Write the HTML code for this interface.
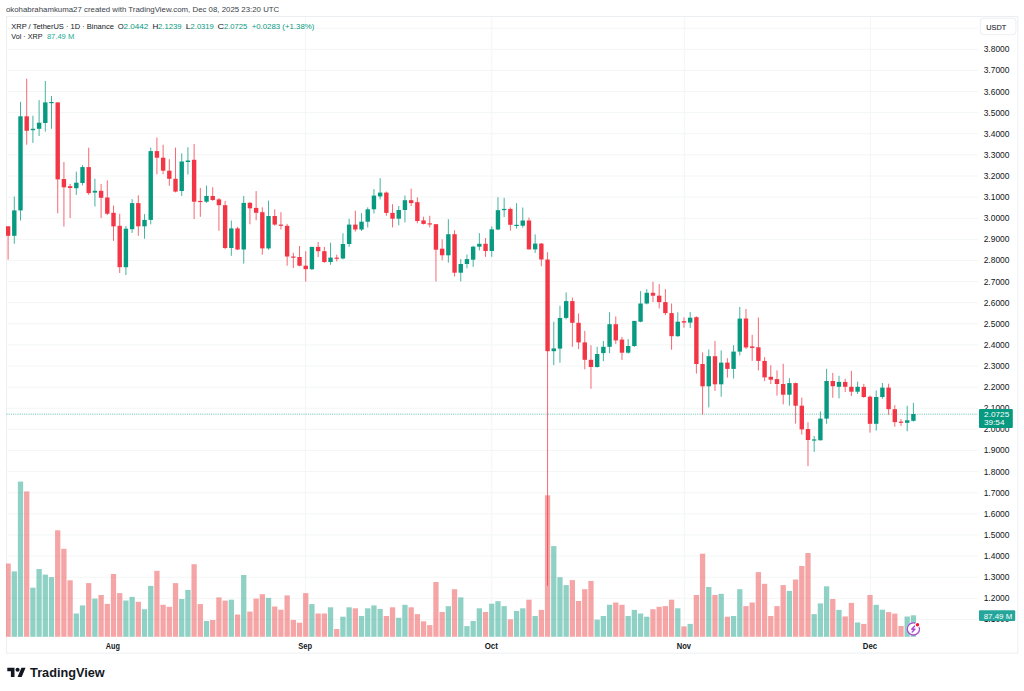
<!DOCTYPE html>
<html><head><meta charset="utf-8">
<style>
html,body{margin:0;padding:0;background:#fff;}
body{width:1024px;height:691px;position:relative;overflow:hidden;font-family:"Liberation Sans",sans-serif;color:#131722;}
svg{position:absolute;left:0;top:0;font-family:"Liberation Sans",sans-serif;}
</style></head><body>
<svg width="1024" height="691" viewBox="0 0 1024 691">
<rect x="6.5" y="16.5" width="1011.3" height="636.6" fill="#fff" stroke="#eceff2" stroke-width="1"/>
<clipPath id="cp"><rect x="6" y="17" width="972" height="620"/></clipPath>
<g clip-path="url(#cp)">
<line x1="6.5" y1="619.40" x2="978" y2="619.40" stroke="#f3f6f5" stroke-width="1"/>
<line x1="6.5" y1="598.29" x2="978" y2="598.29" stroke="#f3f6f5" stroke-width="1"/>
<line x1="6.5" y1="577.17" x2="978" y2="577.17" stroke="#f3f6f5" stroke-width="1"/>
<line x1="6.5" y1="556.06" x2="978" y2="556.06" stroke="#f3f6f5" stroke-width="1"/>
<line x1="6.5" y1="534.94" x2="978" y2="534.94" stroke="#f3f6f5" stroke-width="1"/>
<line x1="6.5" y1="513.83" x2="978" y2="513.83" stroke="#f3f6f5" stroke-width="1"/>
<line x1="6.5" y1="492.72" x2="978" y2="492.72" stroke="#f3f6f5" stroke-width="1"/>
<line x1="6.5" y1="471.60" x2="978" y2="471.60" stroke="#f3f6f5" stroke-width="1"/>
<line x1="6.5" y1="450.49" x2="978" y2="450.49" stroke="#f3f6f5" stroke-width="1"/>
<line x1="6.5" y1="429.37" x2="978" y2="429.37" stroke="#f3f6f5" stroke-width="1"/>
<line x1="6.5" y1="408.26" x2="978" y2="408.26" stroke="#f3f6f5" stroke-width="1"/>
<line x1="6.5" y1="387.15" x2="978" y2="387.15" stroke="#f3f6f5" stroke-width="1"/>
<line x1="6.5" y1="366.03" x2="978" y2="366.03" stroke="#f3f6f5" stroke-width="1"/>
<line x1="6.5" y1="344.92" x2="978" y2="344.92" stroke="#f3f6f5" stroke-width="1"/>
<line x1="6.5" y1="323.80" x2="978" y2="323.80" stroke="#f3f6f5" stroke-width="1"/>
<line x1="6.5" y1="302.69" x2="978" y2="302.69" stroke="#f3f6f5" stroke-width="1"/>
<line x1="6.5" y1="281.58" x2="978" y2="281.58" stroke="#f3f6f5" stroke-width="1"/>
<line x1="6.5" y1="260.46" x2="978" y2="260.46" stroke="#f3f6f5" stroke-width="1"/>
<line x1="6.5" y1="239.35" x2="978" y2="239.35" stroke="#f3f6f5" stroke-width="1"/>
<line x1="6.5" y1="218.23" x2="978" y2="218.23" stroke="#f3f6f5" stroke-width="1"/>
<line x1="6.5" y1="197.12" x2="978" y2="197.12" stroke="#f3f6f5" stroke-width="1"/>
<line x1="6.5" y1="176.01" x2="978" y2="176.01" stroke="#f3f6f5" stroke-width="1"/>
<line x1="6.5" y1="154.89" x2="978" y2="154.89" stroke="#f3f6f5" stroke-width="1"/>
<line x1="6.5" y1="133.78" x2="978" y2="133.78" stroke="#f3f6f5" stroke-width="1"/>
<line x1="6.5" y1="112.66" x2="978" y2="112.66" stroke="#f3f6f5" stroke-width="1"/>
<line x1="6.5" y1="91.55" x2="978" y2="91.55" stroke="#f3f6f5" stroke-width="1"/>
<line x1="6.5" y1="70.44" x2="978" y2="70.44" stroke="#f3f6f5" stroke-width="1"/>
<line x1="6.5" y1="49.32" x2="978" y2="49.32" stroke="#f3f6f5" stroke-width="1"/>
<line x1="6.5" y1="28.21" x2="978" y2="28.21" stroke="#f3f6f5" stroke-width="1"/>
<line x1="305.6" y1="16.5" x2="305.6" y2="637" stroke="#f3f6f5" stroke-width="1"/>
<line x1="491.8" y1="16.5" x2="491.8" y2="637" stroke="#f3f6f5" stroke-width="1"/>
<line x1="684.3" y1="16.5" x2="684.3" y2="637" stroke="#f3f6f5" stroke-width="1"/>
<line x1="870.4" y1="16.5" x2="870.4" y2="637" stroke="#f3f6f5" stroke-width="1"/>
<rect x="5.45" y="563.50" width="5.3" height="73.30" fill="rgba(235,55,57,0.45)"/>
<rect x="11.65" y="571.40" width="5.3" height="65.40" fill="rgba(8,153,129,0.45)"/>
<rect x="17.85" y="481.60" width="5.3" height="155.20" fill="rgba(8,153,129,0.45)"/>
<rect x="24.05" y="491.40" width="5.3" height="145.40" fill="rgba(235,55,57,0.45)"/>
<rect x="30.25" y="587.70" width="5.3" height="49.10" fill="rgba(8,153,129,0.45)"/>
<rect x="36.45" y="569.00" width="5.3" height="67.80" fill="rgba(8,153,129,0.45)"/>
<rect x="42.65" y="574.60" width="5.3" height="62.20" fill="rgba(8,153,129,0.45)"/>
<rect x="48.85" y="577.10" width="5.3" height="59.70" fill="rgba(8,153,129,0.45)"/>
<rect x="55.06" y="530.30" width="5.3" height="106.50" fill="rgba(235,55,57,0.45)"/>
<rect x="61.26" y="548.80" width="5.3" height="88.00" fill="rgba(235,55,57,0.45)"/>
<rect x="67.46" y="580.30" width="5.3" height="56.50" fill="rgba(235,55,57,0.45)"/>
<rect x="73.66" y="613.50" width="5.3" height="23.30" fill="rgba(8,153,129,0.45)"/>
<rect x="79.86" y="605.40" width="5.3" height="31.40" fill="rgba(8,153,129,0.45)"/>
<rect x="86.06" y="583.10" width="5.3" height="53.70" fill="rgba(235,55,57,0.45)"/>
<rect x="92.26" y="598.60" width="5.3" height="38.20" fill="rgba(8,153,129,0.45)"/>
<rect x="98.46" y="595.00" width="5.3" height="41.80" fill="rgba(235,55,57,0.45)"/>
<rect x="104.66" y="603.90" width="5.3" height="32.90" fill="rgba(235,55,57,0.45)"/>
<rect x="110.86" y="574.00" width="5.3" height="62.80" fill="rgba(235,55,57,0.45)"/>
<rect x="117.06" y="593.10" width="5.3" height="43.70" fill="rgba(235,55,57,0.45)"/>
<rect x="123.26" y="600.50" width="5.3" height="36.30" fill="rgba(8,153,129,0.45)"/>
<rect x="129.46" y="596.90" width="5.3" height="39.90" fill="rgba(8,153,129,0.45)"/>
<rect x="135.66" y="601.80" width="5.3" height="35.00" fill="rgba(235,55,57,0.45)"/>
<rect x="141.87" y="609.20" width="5.3" height="27.60" fill="rgba(8,153,129,0.45)"/>
<rect x="148.07" y="585.90" width="5.3" height="50.90" fill="rgba(8,153,129,0.45)"/>
<rect x="154.27" y="570.80" width="5.3" height="66.00" fill="rgba(235,55,57,0.45)"/>
<rect x="160.47" y="604.80" width="5.3" height="32.00" fill="rgba(235,55,57,0.45)"/>
<rect x="166.67" y="606.80" width="5.3" height="30.00" fill="rgba(235,55,57,0.45)"/>
<rect x="172.87" y="583.10" width="5.3" height="53.70" fill="rgba(235,55,57,0.45)"/>
<rect x="179.07" y="599.00" width="5.3" height="37.80" fill="rgba(8,153,129,0.45)"/>
<rect x="185.27" y="589.90" width="5.3" height="46.90" fill="rgba(8,153,129,0.45)"/>
<rect x="191.47" y="564.20" width="5.3" height="72.60" fill="rgba(235,55,57,0.45)"/>
<rect x="197.67" y="604.10" width="5.3" height="32.70" fill="rgba(235,55,57,0.45)"/>
<rect x="203.87" y="621.00" width="5.3" height="15.80" fill="rgba(8,153,129,0.45)"/>
<rect x="210.07" y="620.00" width="5.3" height="16.80" fill="rgba(235,55,57,0.45)"/>
<rect x="216.27" y="597.40" width="5.3" height="39.40" fill="rgba(235,55,57,0.45)"/>
<rect x="222.47" y="600.60" width="5.3" height="36.20" fill="rgba(235,55,57,0.45)"/>
<rect x="228.68" y="599.70" width="5.3" height="37.10" fill="rgba(8,153,129,0.45)"/>
<rect x="234.88" y="614.50" width="5.3" height="22.30" fill="rgba(235,55,57,0.45)"/>
<rect x="241.08" y="575.00" width="5.3" height="61.80" fill="rgba(8,153,129,0.45)"/>
<rect x="247.28" y="611.60" width="5.3" height="25.20" fill="rgba(235,55,57,0.45)"/>
<rect x="253.48" y="598.60" width="5.3" height="38.20" fill="rgba(235,55,57,0.45)"/>
<rect x="259.68" y="594.20" width="5.3" height="42.60" fill="rgba(235,55,57,0.45)"/>
<rect x="265.88" y="597.90" width="5.3" height="38.90" fill="rgba(8,153,129,0.45)"/>
<rect x="272.08" y="606.50" width="5.3" height="30.30" fill="rgba(235,55,57,0.45)"/>
<rect x="278.28" y="609.70" width="5.3" height="27.10" fill="rgba(235,55,57,0.45)"/>
<rect x="284.48" y="595.40" width="5.3" height="41.40" fill="rgba(235,55,57,0.45)"/>
<rect x="290.68" y="619.90" width="5.3" height="16.90" fill="rgba(235,55,57,0.45)"/>
<rect x="296.88" y="622.70" width="5.3" height="14.10" fill="rgba(235,55,57,0.45)"/>
<rect x="303.08" y="593.10" width="5.3" height="43.70" fill="rgba(235,55,57,0.45)"/>
<rect x="309.28" y="604.10" width="5.3" height="32.70" fill="rgba(8,153,129,0.45)"/>
<rect x="315.49" y="613.50" width="5.3" height="23.30" fill="rgba(235,55,57,0.45)"/>
<rect x="321.69" y="613.50" width="5.3" height="23.30" fill="rgba(235,55,57,0.45)"/>
<rect x="327.89" y="607.30" width="5.3" height="29.50" fill="rgba(8,153,129,0.45)"/>
<rect x="334.09" y="629.00" width="5.3" height="7.80" fill="rgba(235,55,57,0.45)"/>
<rect x="340.29" y="616.70" width="5.3" height="20.10" fill="rgba(8,153,129,0.45)"/>
<rect x="346.49" y="607.30" width="5.3" height="29.50" fill="rgba(8,153,129,0.45)"/>
<rect x="352.69" y="608.30" width="5.3" height="28.50" fill="rgba(235,55,57,0.45)"/>
<rect x="358.89" y="616.00" width="5.3" height="20.80" fill="rgba(8,153,129,0.45)"/>
<rect x="365.09" y="608.30" width="5.3" height="28.50" fill="rgba(8,153,129,0.45)"/>
<rect x="371.29" y="605.40" width="5.3" height="31.40" fill="rgba(8,153,129,0.45)"/>
<rect x="377.49" y="609.00" width="5.3" height="27.80" fill="rgba(8,153,129,0.45)"/>
<rect x="383.69" y="616.00" width="5.3" height="20.80" fill="rgba(235,55,57,0.45)"/>
<rect x="389.89" y="607.30" width="5.3" height="29.50" fill="rgba(235,55,57,0.45)"/>
<rect x="396.09" y="617.80" width="5.3" height="19.00" fill="rgba(8,153,129,0.45)"/>
<rect x="402.29" y="604.80" width="5.3" height="32.00" fill="rgba(8,153,129,0.45)"/>
<rect x="408.50" y="607.30" width="5.3" height="29.50" fill="rgba(235,55,57,0.45)"/>
<rect x="414.70" y="614.10" width="5.3" height="22.70" fill="rgba(235,55,57,0.45)"/>
<rect x="420.90" y="621.30" width="5.3" height="15.50" fill="rgba(235,55,57,0.45)"/>
<rect x="427.10" y="625.10" width="5.3" height="11.70" fill="rgba(235,55,57,0.45)"/>
<rect x="433.30" y="582.00" width="5.3" height="54.80" fill="rgba(235,55,57,0.45)"/>
<rect x="439.50" y="612.00" width="5.3" height="24.80" fill="rgba(235,55,57,0.45)"/>
<rect x="445.70" y="606.20" width="5.3" height="30.60" fill="rgba(8,153,129,0.45)"/>
<rect x="451.90" y="589.20" width="5.3" height="47.60" fill="rgba(235,55,57,0.45)"/>
<rect x="458.10" y="597.40" width="5.3" height="39.40" fill="rgba(8,153,129,0.45)"/>
<rect x="464.30" y="626.10" width="5.3" height="10.70" fill="rgba(8,153,129,0.45)"/>
<rect x="470.50" y="621.00" width="5.3" height="15.80" fill="rgba(8,153,129,0.45)"/>
<rect x="476.70" y="608.30" width="5.3" height="28.50" fill="rgba(8,153,129,0.45)"/>
<rect x="482.90" y="612.00" width="5.3" height="24.80" fill="rgba(235,55,57,0.45)"/>
<rect x="489.10" y="603.70" width="5.3" height="33.10" fill="rgba(8,153,129,0.45)"/>
<rect x="495.31" y="601.20" width="5.3" height="35.60" fill="rgba(8,153,129,0.45)"/>
<rect x="501.51" y="606.10" width="5.3" height="30.70" fill="rgba(8,153,129,0.45)"/>
<rect x="507.71" y="619.30" width="5.3" height="17.50" fill="rgba(235,55,57,0.45)"/>
<rect x="513.91" y="611.00" width="5.3" height="25.80" fill="rgba(8,153,129,0.45)"/>
<rect x="520.11" y="608.30" width="5.3" height="28.50" fill="rgba(8,153,129,0.45)"/>
<rect x="526.31" y="599.70" width="5.3" height="37.10" fill="rgba(235,55,57,0.45)"/>
<rect x="532.51" y="616.00" width="5.3" height="20.80" fill="rgba(8,153,129,0.45)"/>
<rect x="538.71" y="609.90" width="5.3" height="26.90" fill="rgba(235,55,57,0.45)"/>
<rect x="544.91" y="495.30" width="5.3" height="141.50" fill="rgba(235,55,57,0.45)"/>
<rect x="551.11" y="546.10" width="5.3" height="90.70" fill="rgba(8,153,129,0.45)"/>
<rect x="557.31" y="577.20" width="5.3" height="59.60" fill="rgba(8,153,129,0.45)"/>
<rect x="563.51" y="585.10" width="5.3" height="51.70" fill="rgba(8,153,129,0.45)"/>
<rect x="569.71" y="580.10" width="5.3" height="56.70" fill="rgba(235,55,57,0.45)"/>
<rect x="575.91" y="601.00" width="5.3" height="35.80" fill="rgba(235,55,57,0.45)"/>
<rect x="582.12" y="589.20" width="5.3" height="47.60" fill="rgba(235,55,57,0.45)"/>
<rect x="588.32" y="580.90" width="5.3" height="55.90" fill="rgba(235,55,57,0.45)"/>
<rect x="594.52" y="619.60" width="5.3" height="17.20" fill="rgba(8,153,129,0.45)"/>
<rect x="600.72" y="616.00" width="5.3" height="20.80" fill="rgba(8,153,129,0.45)"/>
<rect x="606.92" y="604.80" width="5.3" height="32.00" fill="rgba(8,153,129,0.45)"/>
<rect x="613.12" y="602.50" width="5.3" height="34.30" fill="rgba(235,55,57,0.45)"/>
<rect x="619.32" y="604.80" width="5.3" height="32.00" fill="rgba(235,55,57,0.45)"/>
<rect x="625.52" y="616.00" width="5.3" height="20.80" fill="rgba(8,153,129,0.45)"/>
<rect x="631.72" y="609.90" width="5.3" height="26.90" fill="rgba(8,153,129,0.45)"/>
<rect x="637.92" y="613.50" width="5.3" height="23.30" fill="rgba(8,153,129,0.45)"/>
<rect x="644.12" y="616.70" width="5.3" height="20.10" fill="rgba(8,153,129,0.45)"/>
<rect x="650.32" y="609.20" width="5.3" height="27.60" fill="rgba(235,55,57,0.45)"/>
<rect x="656.52" y="606.80" width="5.3" height="30.00" fill="rgba(235,55,57,0.45)"/>
<rect x="662.72" y="606.10" width="5.3" height="30.70" fill="rgba(235,55,57,0.45)"/>
<rect x="668.92" y="599.70" width="5.3" height="37.10" fill="rgba(235,55,57,0.45)"/>
<rect x="675.13" y="608.30" width="5.3" height="28.50" fill="rgba(8,153,129,0.45)"/>
<rect x="681.33" y="626.40" width="5.3" height="10.40" fill="rgba(235,55,57,0.45)"/>
<rect x="687.53" y="623.90" width="5.3" height="12.90" fill="rgba(8,153,129,0.45)"/>
<rect x="693.73" y="595.00" width="5.3" height="41.80" fill="rgba(235,55,57,0.45)"/>
<rect x="699.93" y="553.70" width="5.3" height="83.10" fill="rgba(235,55,57,0.45)"/>
<rect x="706.13" y="587.00" width="5.3" height="49.80" fill="rgba(8,153,129,0.45)"/>
<rect x="712.33" y="595.00" width="5.3" height="41.80" fill="rgba(235,55,57,0.45)"/>
<rect x="718.53" y="593.80" width="5.3" height="43.00" fill="rgba(8,153,129,0.45)"/>
<rect x="724.73" y="616.70" width="5.3" height="20.10" fill="rgba(235,55,57,0.45)"/>
<rect x="730.93" y="616.00" width="5.3" height="20.80" fill="rgba(8,153,129,0.45)"/>
<rect x="737.13" y="589.20" width="5.3" height="47.60" fill="rgba(8,153,129,0.45)"/>
<rect x="743.33" y="606.10" width="5.3" height="30.70" fill="rgba(235,55,57,0.45)"/>
<rect x="749.53" y="602.50" width="5.3" height="34.30" fill="rgba(235,55,57,0.45)"/>
<rect x="755.73" y="572.10" width="5.3" height="64.70" fill="rgba(235,55,57,0.45)"/>
<rect x="761.94" y="583.80" width="5.3" height="53.00" fill="rgba(235,55,57,0.45)"/>
<rect x="768.14" y="616.00" width="5.3" height="20.80" fill="rgba(235,55,57,0.45)"/>
<rect x="774.34" y="606.10" width="5.3" height="30.70" fill="rgba(235,55,57,0.45)"/>
<rect x="780.54" y="585.10" width="5.3" height="51.70" fill="rgba(235,55,57,0.45)"/>
<rect x="786.74" y="590.90" width="5.3" height="45.90" fill="rgba(8,153,129,0.45)"/>
<rect x="792.94" y="579.50" width="5.3" height="57.30" fill="rgba(235,55,57,0.45)"/>
<rect x="799.14" y="566.00" width="5.3" height="70.80" fill="rgba(235,55,57,0.45)"/>
<rect x="805.34" y="553.00" width="5.3" height="83.80" fill="rgba(235,55,57,0.45)"/>
<rect x="811.54" y="614.10" width="5.3" height="22.70" fill="rgba(8,153,129,0.45)"/>
<rect x="817.74" y="603.40" width="5.3" height="33.40" fill="rgba(8,153,129,0.45)"/>
<rect x="823.94" y="586.30" width="5.3" height="50.50" fill="rgba(8,153,129,0.45)"/>
<rect x="830.14" y="599.00" width="5.3" height="37.80" fill="rgba(235,55,57,0.45)"/>
<rect x="836.34" y="609.90" width="5.3" height="26.90" fill="rgba(8,153,129,0.45)"/>
<rect x="842.54" y="616.40" width="5.3" height="20.40" fill="rgba(235,55,57,0.45)"/>
<rect x="848.75" y="602.90" width="5.3" height="33.90" fill="rgba(235,55,57,0.45)"/>
<rect x="854.95" y="622.50" width="5.3" height="14.30" fill="rgba(8,153,129,0.45)"/>
<rect x="861.15" y="623.90" width="5.3" height="12.90" fill="rgba(235,55,57,0.45)"/>
<rect x="867.35" y="595.00" width="5.3" height="41.80" fill="rgba(235,55,57,0.45)"/>
<rect x="873.55" y="604.80" width="5.3" height="32.00" fill="rgba(8,153,129,0.45)"/>
<rect x="879.75" y="609.70" width="5.3" height="27.10" fill="rgba(8,153,129,0.45)"/>
<rect x="885.95" y="612.10" width="5.3" height="24.70" fill="rgba(235,55,57,0.45)"/>
<rect x="892.15" y="613.60" width="5.3" height="23.20" fill="rgba(235,55,57,0.45)"/>
<rect x="898.35" y="626.00" width="5.3" height="10.80" fill="rgba(235,55,57,0.45)"/>
<rect x="904.55" y="616.50" width="5.3" height="20.30" fill="rgba(8,153,129,0.45)"/>
<rect x="910.75" y="615.30" width="5.3" height="21.50" fill="rgba(8,153,129,0.45)"/>
<line x1="6.5" y1="414.2" x2="977.5" y2="414.2" stroke="#089981" stroke-width="1" stroke-dasharray="1 1.2" opacity="0.6"/>
<rect x="7.60" y="226.30" width="1.0" height="33.30" fill="#f23645" opacity="0.75"/>
<rect x="5.90" y="226.30" width="4.4" height="9.50" fill="#f23645"/>
<rect x="13.80" y="196.50" width="1.0" height="47.20" fill="#089981" opacity="0.75"/>
<rect x="12.10" y="210.40" width="4.4" height="25.40" fill="#089981"/>
<rect x="20.00" y="101.80" width="1.0" height="118.70" fill="#089981" opacity="0.75"/>
<rect x="18.30" y="116.30" width="4.4" height="94.10" fill="#089981"/>
<rect x="26.20" y="78.70" width="1.0" height="66.00" fill="#f23645" opacity="0.75"/>
<rect x="24.50" y="116.30" width="4.4" height="14.50" fill="#f23645"/>
<rect x="32.40" y="115.70" width="1.0" height="27.20" fill="#089981" opacity="0.75"/>
<rect x="30.70" y="128.80" width="4.4" height="1.40" fill="#089981"/>
<rect x="38.60" y="100.10" width="1.0" height="35.90" fill="#089981" opacity="0.75"/>
<rect x="36.90" y="122.70" width="4.4" height="6.10" fill="#089981"/>
<rect x="44.80" y="81.00" width="1.0" height="50.60" fill="#089981" opacity="0.75"/>
<rect x="43.10" y="102.40" width="4.4" height="20.60" fill="#089981"/>
<rect x="51.00" y="96.00" width="1.0" height="32.80" fill="#089981" opacity="0.75"/>
<rect x="49.30" y="102.00" width="4.4" height="1.20" fill="#089981"/>
<rect x="57.21" y="102.40" width="1.0" height="110.90" fill="#f23645" opacity="0.75"/>
<rect x="55.51" y="102.40" width="4.4" height="77.00" fill="#f23645"/>
<rect x="63.41" y="162.00" width="1.0" height="64.50" fill="#f23645" opacity="0.75"/>
<rect x="61.71" y="179.00" width="4.4" height="8.30" fill="#f23645"/>
<rect x="69.61" y="183.90" width="1.0" height="34.10" fill="#f23645" opacity="0.75"/>
<rect x="67.91" y="186.20" width="4.4" height="1.80" fill="#f23645"/>
<rect x="75.81" y="171.70" width="1.0" height="23.20" fill="#089981" opacity="0.75"/>
<rect x="74.11" y="182.70" width="4.4" height="5.50" fill="#089981"/>
<rect x="82.01" y="165.10" width="1.0" height="20.20" fill="#089981" opacity="0.75"/>
<rect x="80.31" y="167.10" width="4.4" height="15.90" fill="#089981"/>
<rect x="88.21" y="147.70" width="1.0" height="47.20" fill="#f23645" opacity="0.75"/>
<rect x="86.51" y="167.10" width="4.4" height="26.00" fill="#f23645"/>
<rect x="94.41" y="178.70" width="1.0" height="27.80" fill="#089981" opacity="0.75"/>
<rect x="92.71" y="190.80" width="4.4" height="1.80" fill="#089981"/>
<rect x="100.61" y="183.90" width="1.0" height="34.10" fill="#f23645" opacity="0.75"/>
<rect x="98.91" y="190.80" width="4.4" height="7.00" fill="#f23645"/>
<rect x="106.81" y="180.40" width="1.0" height="34.70" fill="#f23645" opacity="0.75"/>
<rect x="105.11" y="197.50" width="4.4" height="16.20" fill="#f23645"/>
<rect x="113.01" y="205.60" width="1.0" height="35.30" fill="#f23645" opacity="0.75"/>
<rect x="111.31" y="212.80" width="4.4" height="13.60" fill="#f23645"/>
<rect x="119.21" y="213.70" width="1.0" height="59.30" fill="#f23645" opacity="0.75"/>
<rect x="117.51" y="225.80" width="4.4" height="41.40" fill="#f23645"/>
<rect x="125.41" y="226.00" width="1.0" height="49.00" fill="#089981" opacity="0.75"/>
<rect x="123.71" y="228.70" width="4.4" height="38.50" fill="#089981"/>
<rect x="131.61" y="199.10" width="1.0" height="33.80" fill="#089981" opacity="0.75"/>
<rect x="129.91" y="203.10" width="4.4" height="26.10" fill="#089981"/>
<rect x="137.81" y="195.30" width="1.0" height="40.50" fill="#f23645" opacity="0.75"/>
<rect x="136.11" y="203.10" width="4.4" height="23.20" fill="#f23645"/>
<rect x="144.02" y="214.10" width="1.0" height="24.60" fill="#089981" opacity="0.75"/>
<rect x="142.32" y="219.90" width="4.4" height="6.40" fill="#089981"/>
<rect x="150.22" y="147.60" width="1.0" height="76.70" fill="#089981" opacity="0.75"/>
<rect x="148.52" y="151.10" width="4.4" height="68.80" fill="#089981"/>
<rect x="156.42" y="137.50" width="1.0" height="36.70" fill="#f23645" opacity="0.75"/>
<rect x="154.72" y="151.10" width="4.4" height="6.60" fill="#f23645"/>
<rect x="162.62" y="144.70" width="1.0" height="29.50" fill="#f23645" opacity="0.75"/>
<rect x="160.92" y="157.70" width="4.4" height="13.00" fill="#f23645"/>
<rect x="168.82" y="159.20" width="1.0" height="26.60" fill="#f23645" opacity="0.75"/>
<rect x="167.12" y="170.70" width="4.4" height="8.10" fill="#f23645"/>
<rect x="175.02" y="147.60" width="1.0" height="44.80" fill="#f23645" opacity="0.75"/>
<rect x="173.32" y="178.80" width="4.4" height="12.80" fill="#f23645"/>
<rect x="181.22" y="153.40" width="1.0" height="42.50" fill="#089981" opacity="0.75"/>
<rect x="179.52" y="161.50" width="4.4" height="29.50" fill="#089981"/>
<rect x="187.42" y="147.20" width="1.0" height="27.30" fill="#089981" opacity="0.75"/>
<rect x="185.72" y="160.50" width="4.4" height="1.50" fill="#089981"/>
<rect x="193.62" y="143.90" width="1.0" height="75.20" fill="#f23645" opacity="0.75"/>
<rect x="191.92" y="159.80" width="4.4" height="41.90" fill="#f23645"/>
<rect x="199.82" y="187.90" width="1.0" height="28.90" fill="#f23645" opacity="0.75"/>
<rect x="198.12" y="200.90" width="4.4" height="1.20" fill="#f23645"/>
<rect x="206.02" y="185.50" width="1.0" height="17.40" fill="#089981" opacity="0.75"/>
<rect x="204.32" y="196.00" width="4.4" height="5.70" fill="#089981"/>
<rect x="212.22" y="187.30" width="1.0" height="13.60" fill="#f23645" opacity="0.75"/>
<rect x="210.52" y="196.00" width="4.4" height="4.00" fill="#f23645"/>
<rect x="218.42" y="198.00" width="1.0" height="32.70" fill="#f23645" opacity="0.75"/>
<rect x="216.72" y="199.40" width="4.4" height="5.80" fill="#f23645"/>
<rect x="224.62" y="200.90" width="1.0" height="48.30" fill="#f23645" opacity="0.75"/>
<rect x="222.92" y="205.20" width="4.4" height="42.80" fill="#f23645"/>
<rect x="230.83" y="220.50" width="1.0" height="35.30" fill="#089981" opacity="0.75"/>
<rect x="229.13" y="228.40" width="4.4" height="19.60" fill="#089981"/>
<rect x="237.03" y="226.90" width="1.0" height="23.10" fill="#f23645" opacity="0.75"/>
<rect x="235.33" y="228.40" width="4.4" height="21.10" fill="#f23645"/>
<rect x="243.23" y="196.00" width="1.0" height="67.60" fill="#089981" opacity="0.75"/>
<rect x="241.53" y="202.90" width="4.4" height="46.60" fill="#089981"/>
<rect x="249.43" y="202.20" width="1.0" height="22.10" fill="#f23645" opacity="0.75"/>
<rect x="247.73" y="202.80" width="4.4" height="5.50" fill="#f23645"/>
<rect x="255.63" y="191.10" width="1.0" height="29.20" fill="#f23645" opacity="0.75"/>
<rect x="253.93" y="207.90" width="4.4" height="4.90" fill="#f23645"/>
<rect x="261.83" y="207.30" width="1.0" height="47.40" fill="#f23645" opacity="0.75"/>
<rect x="260.13" y="212.20" width="4.4" height="36.20" fill="#f23645"/>
<rect x="268.03" y="200.60" width="1.0" height="49.20" fill="#089981" opacity="0.75"/>
<rect x="266.33" y="216.00" width="4.4" height="32.40" fill="#089981"/>
<rect x="274.23" y="209.30" width="1.0" height="16.50" fill="#f23645" opacity="0.75"/>
<rect x="272.53" y="216.00" width="4.4" height="8.60" fill="#f23645"/>
<rect x="280.43" y="212.20" width="1.0" height="17.30" fill="#f23645" opacity="0.75"/>
<rect x="278.73" y="224.60" width="4.4" height="1.20" fill="#f23645"/>
<rect x="286.63" y="223.80" width="1.0" height="41.90" fill="#f23645" opacity="0.75"/>
<rect x="284.93" y="225.80" width="4.4" height="30.70" fill="#f23645"/>
<rect x="292.83" y="252.70" width="1.0" height="15.30" fill="#f23645" opacity="0.75"/>
<rect x="291.13" y="256.50" width="4.4" height="1.20" fill="#f23645"/>
<rect x="299.03" y="246.00" width="1.0" height="20.30" fill="#f23645" opacity="0.75"/>
<rect x="297.33" y="257.00" width="4.4" height="8.70" fill="#f23645"/>
<rect x="305.23" y="251.20" width="1.0" height="30.40" fill="#f23645" opacity="0.75"/>
<rect x="303.53" y="265.70" width="4.4" height="3.50" fill="#f23645"/>
<rect x="311.43" y="246.90" width="1.0" height="23.10" fill="#089981" opacity="0.75"/>
<rect x="309.73" y="246.90" width="4.4" height="22.30" fill="#089981"/>
<rect x="317.64" y="242.00" width="1.0" height="15.00" fill="#f23645" opacity="0.75"/>
<rect x="315.94" y="246.90" width="4.4" height="4.30" fill="#f23645"/>
<rect x="323.84" y="246.90" width="1.0" height="15.90" fill="#f23645" opacity="0.75"/>
<rect x="322.14" y="251.20" width="4.4" height="10.80" fill="#f23645"/>
<rect x="330.04" y="242.60" width="1.0" height="22.20" fill="#089981" opacity="0.75"/>
<rect x="328.34" y="257.60" width="4.4" height="4.40" fill="#089981"/>
<rect x="336.24" y="254.70" width="1.0" height="6.70" fill="#f23645" opacity="0.75"/>
<rect x="334.54" y="257.60" width="4.4" height="1.20" fill="#f23645"/>
<rect x="342.44" y="233.30" width="1.0" height="26.00" fill="#089981" opacity="0.75"/>
<rect x="340.74" y="244.00" width="4.4" height="14.50" fill="#089981"/>
<rect x="348.64" y="218.80" width="1.0" height="28.10" fill="#089981" opacity="0.75"/>
<rect x="346.94" y="224.60" width="4.4" height="19.40" fill="#089981"/>
<rect x="354.84" y="210.70" width="1.0" height="20.90" fill="#f23645" opacity="0.75"/>
<rect x="353.14" y="224.60" width="4.4" height="4.90" fill="#f23645"/>
<rect x="361.04" y="213.10" width="1.0" height="17.90" fill="#089981" opacity="0.75"/>
<rect x="359.34" y="221.70" width="4.4" height="7.80" fill="#089981"/>
<rect x="367.24" y="207.30" width="1.0" height="20.20" fill="#089981" opacity="0.75"/>
<rect x="365.54" y="209.30" width="4.4" height="12.40" fill="#089981"/>
<rect x="373.44" y="189.10" width="1.0" height="24.40" fill="#089981" opacity="0.75"/>
<rect x="371.74" y="195.60" width="4.4" height="13.70" fill="#089981"/>
<rect x="379.64" y="178.20" width="1.0" height="21.10" fill="#089981" opacity="0.75"/>
<rect x="377.94" y="192.60" width="4.4" height="3.80" fill="#089981"/>
<rect x="385.84" y="191.50" width="1.0" height="24.30" fill="#f23645" opacity="0.75"/>
<rect x="384.14" y="192.60" width="4.4" height="20.30" fill="#f23645"/>
<rect x="392.04" y="204.20" width="1.0" height="23.20" fill="#f23645" opacity="0.75"/>
<rect x="390.34" y="212.90" width="4.4" height="5.80" fill="#f23645"/>
<rect x="398.24" y="206.00" width="1.0" height="19.30" fill="#089981" opacity="0.75"/>
<rect x="396.54" y="210.00" width="4.4" height="8.70" fill="#089981"/>
<rect x="404.44" y="195.50" width="1.0" height="26.90" fill="#089981" opacity="0.75"/>
<rect x="402.74" y="200.20" width="4.4" height="9.80" fill="#089981"/>
<rect x="410.65" y="188.60" width="1.0" height="17.40" fill="#f23645" opacity="0.75"/>
<rect x="408.95" y="200.20" width="4.4" height="2.90" fill="#f23645"/>
<rect x="416.85" y="197.30" width="1.0" height="26.00" fill="#f23645" opacity="0.75"/>
<rect x="415.15" y="202.20" width="4.4" height="18.80" fill="#f23645"/>
<rect x="423.05" y="216.70" width="1.0" height="7.80" fill="#f23645" opacity="0.75"/>
<rect x="421.35" y="220.40" width="4.4" height="3.50" fill="#f23645"/>
<rect x="429.25" y="215.80" width="1.0" height="11.60" fill="#f23645" opacity="0.75"/>
<rect x="427.55" y="223.30" width="4.4" height="1.20" fill="#f23645"/>
<rect x="435.45" y="224.20" width="1.0" height="57.30" fill="#f23645" opacity="0.75"/>
<rect x="433.75" y="224.20" width="4.4" height="25.50" fill="#f23645"/>
<rect x="441.65" y="239.40" width="1.0" height="20.90" fill="#f23645" opacity="0.75"/>
<rect x="439.95" y="248.70" width="4.4" height="6.60" fill="#f23645"/>
<rect x="447.85" y="219.20" width="1.0" height="43.40" fill="#089981" opacity="0.75"/>
<rect x="446.15" y="234.20" width="4.4" height="21.10" fill="#089981"/>
<rect x="454.05" y="230.20" width="1.0" height="46.30" fill="#f23645" opacity="0.75"/>
<rect x="452.35" y="234.20" width="4.4" height="38.50" fill="#f23645"/>
<rect x="460.25" y="259.10" width="1.0" height="22.30" fill="#089981" opacity="0.75"/>
<rect x="458.55" y="264.00" width="4.4" height="8.70" fill="#089981"/>
<rect x="466.45" y="254.50" width="1.0" height="13.80" fill="#089981" opacity="0.75"/>
<rect x="464.75" y="259.10" width="4.4" height="4.90" fill="#089981"/>
<rect x="472.65" y="245.80" width="1.0" height="21.10" fill="#089981" opacity="0.75"/>
<rect x="470.95" y="246.70" width="4.4" height="13.00" fill="#089981"/>
<rect x="478.85" y="233.10" width="1.0" height="17.30" fill="#089981" opacity="0.75"/>
<rect x="477.15" y="243.80" width="4.4" height="2.90" fill="#089981"/>
<rect x="485.05" y="238.00" width="1.0" height="18.80" fill="#f23645" opacity="0.75"/>
<rect x="483.35" y="243.80" width="4.4" height="7.20" fill="#f23645"/>
<rect x="491.25" y="226.40" width="1.0" height="30.40" fill="#089981" opacity="0.75"/>
<rect x="489.55" y="229.30" width="4.4" height="21.70" fill="#089981"/>
<rect x="497.46" y="197.20" width="1.0" height="33.00" fill="#089981" opacity="0.75"/>
<rect x="495.76" y="210.20" width="4.4" height="19.30" fill="#089981"/>
<rect x="503.66" y="197.90" width="1.0" height="19.10" fill="#089981" opacity="0.75"/>
<rect x="501.96" y="208.90" width="4.4" height="1.20" fill="#089981"/>
<rect x="509.86" y="207.50" width="1.0" height="23.10" fill="#f23645" opacity="0.75"/>
<rect x="508.16" y="208.90" width="4.4" height="15.90" fill="#f23645"/>
<rect x="516.06" y="203.10" width="1.0" height="25.50" fill="#089981" opacity="0.75"/>
<rect x="514.36" y="224.80" width="4.4" height="1.20" fill="#089981"/>
<rect x="522.26" y="207.50" width="1.0" height="20.20" fill="#089981" opacity="0.75"/>
<rect x="520.56" y="220.50" width="4.4" height="5.20" fill="#089981"/>
<rect x="528.46" y="217.60" width="1.0" height="31.80" fill="#f23645" opacity="0.75"/>
<rect x="526.76" y="220.50" width="4.4" height="28.90" fill="#f23645"/>
<rect x="534.66" y="234.40" width="1.0" height="18.50" fill="#089981" opacity="0.75"/>
<rect x="532.96" y="243.60" width="4.4" height="5.80" fill="#089981"/>
<rect x="540.86" y="243.10" width="1.0" height="23.10" fill="#f23645" opacity="0.75"/>
<rect x="539.16" y="243.60" width="4.4" height="15.90" fill="#f23645"/>
<rect x="547.06" y="252.30" width="1.0" height="333.50" fill="#f23645" opacity="0.75"/>
<rect x="545.36" y="259.50" width="4.4" height="91.70" fill="#f23645"/>
<rect x="553.26" y="321.70" width="1.0" height="43.40" fill="#089981" opacity="0.75"/>
<rect x="551.56" y="348.40" width="4.4" height="2.80" fill="#089981"/>
<rect x="559.46" y="305.70" width="1.0" height="57.00" fill="#089981" opacity="0.75"/>
<rect x="557.76" y="318.00" width="4.4" height="30.60" fill="#089981"/>
<rect x="565.66" y="292.40" width="1.0" height="26.90" fill="#089981" opacity="0.75"/>
<rect x="563.96" y="301.10" width="4.4" height="16.80" fill="#089981"/>
<rect x="571.86" y="297.60" width="1.0" height="49.20" fill="#f23645" opacity="0.75"/>
<rect x="570.16" y="301.10" width="4.4" height="21.70" fill="#f23645"/>
<rect x="578.06" y="313.50" width="1.0" height="35.60" fill="#f23645" opacity="0.75"/>
<rect x="576.36" y="322.80" width="4.4" height="19.60" fill="#f23645"/>
<rect x="584.27" y="330.90" width="1.0" height="38.40" fill="#f23645" opacity="0.75"/>
<rect x="582.57" y="342.40" width="4.4" height="17.40" fill="#f23645"/>
<rect x="590.47" y="345.30" width="1.0" height="43.40" fill="#f23645" opacity="0.75"/>
<rect x="588.77" y="359.80" width="4.4" height="7.20" fill="#f23645"/>
<rect x="596.67" y="346.80" width="1.0" height="20.80" fill="#089981" opacity="0.75"/>
<rect x="594.97" y="354.00" width="4.4" height="13.00" fill="#089981"/>
<rect x="602.87" y="341.00" width="1.0" height="20.20" fill="#089981" opacity="0.75"/>
<rect x="601.17" y="346.80" width="4.4" height="6.30" fill="#089981"/>
<rect x="609.07" y="312.10" width="1.0" height="41.00" fill="#089981" opacity="0.75"/>
<rect x="607.37" y="324.20" width="4.4" height="22.60" fill="#089981"/>
<rect x="615.27" y="316.40" width="1.0" height="27.50" fill="#f23645" opacity="0.75"/>
<rect x="613.57" y="324.20" width="4.4" height="16.20" fill="#f23645"/>
<rect x="621.47" y="336.80" width="1.0" height="23.10" fill="#f23645" opacity="0.75"/>
<rect x="619.77" y="339.60" width="4.4" height="13.10" fill="#f23645"/>
<rect x="627.67" y="339.10" width="1.0" height="14.50" fill="#089981" opacity="0.75"/>
<rect x="625.97" y="346.00" width="4.4" height="6.70" fill="#089981"/>
<rect x="633.87" y="320.90" width="1.0" height="26.00" fill="#089981" opacity="0.75"/>
<rect x="632.17" y="320.90" width="4.4" height="25.10" fill="#089981"/>
<rect x="640.07" y="291.10" width="1.0" height="31.20" fill="#089981" opacity="0.75"/>
<rect x="638.37" y="303.50" width="4.4" height="18.20" fill="#089981"/>
<rect x="646.27" y="289.10" width="1.0" height="15.30" fill="#089981" opacity="0.75"/>
<rect x="644.57" y="292.80" width="4.4" height="10.70" fill="#089981"/>
<rect x="652.47" y="281.80" width="1.0" height="20.30" fill="#f23645" opacity="0.75"/>
<rect x="650.77" y="292.80" width="4.4" height="2.90" fill="#f23645"/>
<rect x="658.67" y="284.10" width="1.0" height="24.30" fill="#f23645" opacity="0.75"/>
<rect x="656.97" y="295.70" width="4.4" height="6.40" fill="#f23645"/>
<rect x="664.87" y="289.10" width="1.0" height="26.00" fill="#f23645" opacity="0.75"/>
<rect x="663.17" y="302.10" width="4.4" height="11.00" fill="#f23645"/>
<rect x="671.07" y="303.50" width="1.0" height="46.30" fill="#f23645" opacity="0.75"/>
<rect x="669.37" y="313.10" width="4.4" height="23.10" fill="#f23645"/>
<rect x="677.28" y="312.20" width="1.0" height="24.60" fill="#089981" opacity="0.75"/>
<rect x="675.58" y="321.70" width="4.4" height="14.50" fill="#089981"/>
<rect x="683.48" y="317.40" width="1.0" height="10.30" fill="#f23645" opacity="0.75"/>
<rect x="681.78" y="321.20" width="4.4" height="1.40" fill="#f23645"/>
<rect x="689.68" y="312.00" width="1.0" height="15.90" fill="#089981" opacity="0.75"/>
<rect x="687.98" y="317.70" width="4.4" height="4.90" fill="#089981"/>
<rect x="695.88" y="316.30" width="1.0" height="57.30" fill="#f23645" opacity="0.75"/>
<rect x="694.18" y="317.20" width="4.4" height="46.80" fill="#f23645"/>
<rect x="702.08" y="352.40" width="1.0" height="62.20" fill="#f23645" opacity="0.75"/>
<rect x="700.38" y="364.00" width="4.4" height="22.30" fill="#f23645"/>
<rect x="708.28" y="349.50" width="1.0" height="57.90" fill="#089981" opacity="0.75"/>
<rect x="706.58" y="356.20" width="4.4" height="30.10" fill="#089981"/>
<rect x="714.48" y="340.90" width="1.0" height="50.00" fill="#f23645" opacity="0.75"/>
<rect x="712.78" y="356.20" width="4.4" height="28.10" fill="#f23645"/>
<rect x="720.68" y="350.40" width="1.0" height="46.30" fill="#089981" opacity="0.75"/>
<rect x="718.98" y="362.60" width="4.4" height="21.70" fill="#089981"/>
<rect x="726.88" y="358.20" width="1.0" height="19.40" fill="#f23645" opacity="0.75"/>
<rect x="725.18" y="362.60" width="4.4" height="6.30" fill="#f23645"/>
<rect x="733.08" y="345.20" width="1.0" height="33.30" fill="#089981" opacity="0.75"/>
<rect x="731.38" y="351.60" width="4.4" height="17.30" fill="#089981"/>
<rect x="739.28" y="307.00" width="1.0" height="48.30" fill="#089981" opacity="0.75"/>
<rect x="737.58" y="318.60" width="4.4" height="33.00" fill="#089981"/>
<rect x="745.48" y="309.00" width="1.0" height="40.00" fill="#f23645" opacity="0.75"/>
<rect x="743.78" y="318.50" width="4.4" height="28.90" fill="#f23645"/>
<rect x="751.68" y="334.80" width="1.0" height="26.10" fill="#f23645" opacity="0.75"/>
<rect x="749.98" y="346.40" width="4.4" height="1.50" fill="#f23645"/>
<rect x="757.88" y="317.50" width="1.0" height="52.90" fill="#f23645" opacity="0.75"/>
<rect x="756.18" y="347.30" width="4.4" height="13.60" fill="#f23645"/>
<rect x="764.09" y="357.10" width="1.0" height="24.00" fill="#f23645" opacity="0.75"/>
<rect x="762.39" y="360.90" width="4.4" height="16.50" fill="#f23645"/>
<rect x="770.29" y="365.20" width="1.0" height="18.80" fill="#f23645" opacity="0.75"/>
<rect x="768.59" y="376.80" width="4.4" height="2.90" fill="#f23645"/>
<rect x="776.49" y="370.40" width="1.0" height="25.20" fill="#f23645" opacity="0.75"/>
<rect x="774.79" y="379.10" width="4.4" height="4.90" fill="#f23645"/>
<rect x="782.69" y="363.80" width="1.0" height="40.50" fill="#f23645" opacity="0.75"/>
<rect x="780.99" y="384.00" width="4.4" height="10.70" fill="#f23645"/>
<rect x="788.89" y="378.20" width="1.0" height="27.50" fill="#089981" opacity="0.75"/>
<rect x="787.19" y="383.10" width="4.4" height="11.60" fill="#089981"/>
<rect x="795.09" y="382.60" width="1.0" height="41.00" fill="#f23645" opacity="0.75"/>
<rect x="793.39" y="383.10" width="4.4" height="22.60" fill="#f23645"/>
<rect x="801.29" y="397.60" width="1.0" height="37.00" fill="#f23645" opacity="0.75"/>
<rect x="799.59" y="405.70" width="4.4" height="23.70" fill="#f23645"/>
<rect x="807.49" y="422.30" width="1.0" height="43.80" fill="#f23645" opacity="0.75"/>
<rect x="805.79" y="429.00" width="4.4" height="11.00" fill="#f23645"/>
<rect x="813.69" y="436.00" width="1.0" height="15.90" fill="#089981" opacity="0.75"/>
<rect x="811.99" y="439.40" width="4.4" height="1.20" fill="#089981"/>
<rect x="819.89" y="411.40" width="1.0" height="28.90" fill="#089981" opacity="0.75"/>
<rect x="818.19" y="418.60" width="4.4" height="21.70" fill="#089981"/>
<rect x="826.09" y="368.80" width="1.0" height="55.00" fill="#089981" opacity="0.75"/>
<rect x="824.39" y="381.00" width="4.4" height="37.60" fill="#089981"/>
<rect x="832.29" y="372.90" width="1.0" height="24.90" fill="#f23645" opacity="0.75"/>
<rect x="830.59" y="381.00" width="4.4" height="5.20" fill="#f23645"/>
<rect x="838.49" y="375.80" width="1.0" height="22.60" fill="#089981" opacity="0.75"/>
<rect x="836.79" y="381.90" width="4.4" height="4.90" fill="#089981"/>
<rect x="844.69" y="378.70" width="1.0" height="13.30" fill="#f23645" opacity="0.75"/>
<rect x="842.99" y="381.90" width="4.4" height="4.90" fill="#f23645"/>
<rect x="850.90" y="370.90" width="1.0" height="25.10" fill="#f23645" opacity="0.75"/>
<rect x="849.20" y="386.80" width="4.4" height="4.90" fill="#f23645"/>
<rect x="857.10" y="381.60" width="1.0" height="12.40" fill="#089981" opacity="0.75"/>
<rect x="855.40" y="386.80" width="4.4" height="4.90" fill="#089981"/>
<rect x="863.30" y="383.90" width="1.0" height="13.90" fill="#f23645" opacity="0.75"/>
<rect x="861.60" y="386.90" width="4.4" height="10.10" fill="#f23645"/>
<rect x="869.50" y="395.50" width="1.0" height="37.10" fill="#f23645" opacity="0.75"/>
<rect x="867.80" y="396.70" width="4.4" height="27.10" fill="#f23645"/>
<rect x="875.70" y="390.50" width="1.0" height="40.10" fill="#089981" opacity="0.75"/>
<rect x="874.00" y="397.00" width="4.4" height="26.80" fill="#089981"/>
<rect x="881.90" y="383.00" width="1.0" height="15.70" fill="#089981" opacity="0.75"/>
<rect x="880.20" y="387.60" width="4.4" height="9.40" fill="#089981"/>
<rect x="888.10" y="383.70" width="1.0" height="31.10" fill="#f23645" opacity="0.75"/>
<rect x="886.40" y="387.60" width="4.4" height="21.60" fill="#f23645"/>
<rect x="894.30" y="405.10" width="1.0" height="21.60" fill="#f23645" opacity="0.75"/>
<rect x="892.60" y="409.20" width="4.4" height="12.90" fill="#f23645"/>
<rect x="900.50" y="419.10" width="1.0" height="6.80" fill="#f23645" opacity="0.75"/>
<rect x="898.80" y="421.60" width="4.4" height="1.20" fill="#f23645"/>
<rect x="906.70" y="405.80" width="1.0" height="25.50" fill="#089981" opacity="0.75"/>
<rect x="905.00" y="420.30" width="4.4" height="2.50" fill="#089981"/>
<rect x="912.90" y="402.90" width="1.0" height="18.70" fill="#089981" opacity="0.75"/>
<rect x="911.20" y="414.00" width="4.4" height="6.80" fill="#089981"/>
</g>
<text x="5.93" y="12.40" font-size="7.9" font-weight="normal" fill="#3b3f4a" textLength="273.38" lengthAdjust="spacingAndGlyphs" >okohabrahamkuma27 created with TradingView.com, Dec 08, 2025 23:20 UTC</text>
<text x="11.28" y="28.80" font-size="8.0" font-weight="normal" fill="#131722" textLength="102.54" lengthAdjust="spacingAndGlyphs" >XRP / TetherUS · 1D · Binance</text>
<text x="117.68" y="28.80" font-size="8.0" font-weight="normal" fill="#131722" textLength="5.94" lengthAdjust="spacingAndGlyphs" >O</text>
<text x="123.48" y="28.80" font-size="8.0" font-weight="normal" fill="#089981" textLength="24.94" lengthAdjust="spacingAndGlyphs" >2.0442</text>
<text x="152.48" y="28.80" font-size="8.0" font-weight="normal" fill="#131722" textLength="5.84" lengthAdjust="spacingAndGlyphs" >H</text>
<text x="158.08" y="28.80" font-size="8.0" font-weight="normal" fill="#089981" textLength="23.54" lengthAdjust="spacingAndGlyphs" >2.1239</text>
<text x="185.88" y="28.80" font-size="8.0" font-weight="normal" fill="#131722" textLength="4.94" lengthAdjust="spacingAndGlyphs" >L</text>
<text x="190.58" y="28.80" font-size="8.0" font-weight="normal" fill="#089981" textLength="23.14" lengthAdjust="spacingAndGlyphs" >2.0319</text>
<text x="217.48" y="28.80" font-size="8.0" font-weight="normal" fill="#131722" textLength="6.64" lengthAdjust="spacingAndGlyphs" >C</text>
<text x="223.98" y="28.80" font-size="8.0" font-weight="normal" fill="#089981" textLength="23.34" lengthAdjust="spacingAndGlyphs" >2.0725</text>
<text x="251.68" y="28.80" font-size="8.0" font-weight="normal" fill="#089981" textLength="62.64" lengthAdjust="spacingAndGlyphs" >+0.0283 (+1.38%)</text>
<text x="11.28" y="39.25" font-size="8.0" font-weight="normal" fill="#131722" textLength="31.34" lengthAdjust="spacingAndGlyphs" >Vol · XRP</text>
<text x="46.88" y="39.25" font-size="8.0" font-weight="normal" fill="#22ab94" textLength="27.34" lengthAdjust="spacingAndGlyphs" >87.49 M</text>
<text x="983.67" y="622.35" font-size="8.2" font-weight="normal" fill="#131722" textLength="25.86" lengthAdjust="spacingAndGlyphs" >1.1000</text>
<text x="983.67" y="601.24" font-size="8.2" font-weight="normal" fill="#131722" textLength="25.86" lengthAdjust="spacingAndGlyphs" >1.2000</text>
<text x="983.67" y="580.12" font-size="8.2" font-weight="normal" fill="#131722" textLength="25.86" lengthAdjust="spacingAndGlyphs" >1.3000</text>
<text x="983.67" y="559.01" font-size="8.2" font-weight="normal" fill="#131722" textLength="25.86" lengthAdjust="spacingAndGlyphs" >1.4000</text>
<text x="983.67" y="537.89" font-size="8.2" font-weight="normal" fill="#131722" textLength="25.86" lengthAdjust="spacingAndGlyphs" >1.5000</text>
<text x="983.67" y="516.78" font-size="8.2" font-weight="normal" fill="#131722" textLength="25.86" lengthAdjust="spacingAndGlyphs" >1.6000</text>
<text x="983.67" y="495.67" font-size="8.2" font-weight="normal" fill="#131722" textLength="25.86" lengthAdjust="spacingAndGlyphs" >1.7000</text>
<text x="983.67" y="474.55" font-size="8.2" font-weight="normal" fill="#131722" textLength="25.86" lengthAdjust="spacingAndGlyphs" >1.8000</text>
<text x="983.67" y="453.44" font-size="8.2" font-weight="normal" fill="#131722" textLength="25.86" lengthAdjust="spacingAndGlyphs" >1.9000</text>
<text x="983.67" y="432.32" font-size="8.2" font-weight="normal" fill="#131722" textLength="25.86" lengthAdjust="spacingAndGlyphs" >2.0000</text>
<text x="983.67" y="411.21" font-size="8.2" font-weight="normal" fill="#131722" textLength="25.86" lengthAdjust="spacingAndGlyphs" >2.1000</text>
<text x="983.67" y="390.10" font-size="8.2" font-weight="normal" fill="#131722" textLength="25.86" lengthAdjust="spacingAndGlyphs" >2.2000</text>
<text x="983.67" y="368.98" font-size="8.2" font-weight="normal" fill="#131722" textLength="25.86" lengthAdjust="spacingAndGlyphs" >2.3000</text>
<text x="983.67" y="347.87" font-size="8.2" font-weight="normal" fill="#131722" textLength="25.86" lengthAdjust="spacingAndGlyphs" >2.4000</text>
<text x="983.67" y="326.75" font-size="8.2" font-weight="normal" fill="#131722" textLength="25.86" lengthAdjust="spacingAndGlyphs" >2.5000</text>
<text x="983.67" y="305.64" font-size="8.2" font-weight="normal" fill="#131722" textLength="25.86" lengthAdjust="spacingAndGlyphs" >2.6000</text>
<text x="983.67" y="284.53" font-size="8.2" font-weight="normal" fill="#131722" textLength="25.86" lengthAdjust="spacingAndGlyphs" >2.7000</text>
<text x="983.67" y="263.41" font-size="8.2" font-weight="normal" fill="#131722" textLength="25.86" lengthAdjust="spacingAndGlyphs" >2.8000</text>
<text x="983.67" y="242.30" font-size="8.2" font-weight="normal" fill="#131722" textLength="25.86" lengthAdjust="spacingAndGlyphs" >2.9000</text>
<text x="983.67" y="221.18" font-size="8.2" font-weight="normal" fill="#131722" textLength="25.86" lengthAdjust="spacingAndGlyphs" >3.0000</text>
<text x="983.67" y="200.07" font-size="8.2" font-weight="normal" fill="#131722" textLength="25.86" lengthAdjust="spacingAndGlyphs" >3.1000</text>
<text x="983.67" y="178.96" font-size="8.2" font-weight="normal" fill="#131722" textLength="25.86" lengthAdjust="spacingAndGlyphs" >3.2000</text>
<text x="983.67" y="157.84" font-size="8.2" font-weight="normal" fill="#131722" textLength="25.86" lengthAdjust="spacingAndGlyphs" >3.3000</text>
<text x="983.67" y="136.73" font-size="8.2" font-weight="normal" fill="#131722" textLength="25.86" lengthAdjust="spacingAndGlyphs" >3.4000</text>
<text x="983.67" y="115.61" font-size="8.2" font-weight="normal" fill="#131722" textLength="25.86" lengthAdjust="spacingAndGlyphs" >3.5000</text>
<text x="983.67" y="94.50" font-size="8.2" font-weight="normal" fill="#131722" textLength="25.86" lengthAdjust="spacingAndGlyphs" >3.6000</text>
<text x="983.67" y="73.39" font-size="8.2" font-weight="normal" fill="#131722" textLength="25.86" lengthAdjust="spacingAndGlyphs" >3.7000</text>
<text x="983.67" y="52.27" font-size="8.2" font-weight="normal" fill="#131722" textLength="25.86" lengthAdjust="spacingAndGlyphs" >3.8000</text>
<text x="105.77" y="648.60" font-size="8.2" font-weight="bold" fill="#131722" textLength="14.16" lengthAdjust="spacingAndGlyphs" >Aug</text>
<text x="298.27" y="648.60" font-size="8.2" font-weight="bold" fill="#131722" textLength="13.76" lengthAdjust="spacingAndGlyphs" >Sep</text>
<text x="484.67" y="648.60" font-size="8.2" font-weight="bold" fill="#131722" textLength="13.16" lengthAdjust="spacingAndGlyphs" >Oct</text>
<text x="676.77" y="648.60" font-size="8.2" font-weight="bold" fill="#131722" textLength="14.26" lengthAdjust="spacingAndGlyphs" >Nov</text>
<text x="862.77" y="648.60" font-size="8.2" font-weight="bold" fill="#131722" textLength="14.26" lengthAdjust="spacingAndGlyphs" >Dec</text>
<rect x="980.3" y="18.2" width="35.6" height="16.5" rx="3" fill="#fff" stroke="#eceff2" stroke-width="1"/>
<text x="986.29" y="29.60" font-size="7.8" font-weight="normal" fill="#2a2e39" textLength="19.82" lengthAdjust="spacingAndGlyphs" stroke="#2a2e39" stroke-width="0.15">USDT</text>
<rect x="979" y="408.9" width="33.8" height="19" rx="1" fill="#089981"/>
<text x="984.08" y="417.00" font-size="8.0" font-weight="normal" fill="#ffffff" textLength="25.14" lengthAdjust="spacingAndGlyphs" >2.0725</text>
<text x="984.08" y="425.40" font-size="8.0" font-weight="normal" fill="#ffffff" textLength="20.34" lengthAdjust="spacingAndGlyphs" >39:54</text>
<rect x="979" y="610.2" width="36.2" height="10.7" rx="1" fill="#26a69a"/>
<text x="983.68" y="618.50" font-size="8.0" font-weight="normal" fill="#ffffff" textLength="28.54" lengthAdjust="spacingAndGlyphs" >87.49 M</text>
<g transform="translate(913.4 628.9)">
<circle cx="0" cy="0" r="6.1" fill="#fff" stroke="#ad4ad3" stroke-width="1.3"/>
<polyline points="1.3,-2.9 -1.6,0.4 1.7,0.2 -1.2,3.1" fill="none" stroke="#ad4ad3" stroke-width="1.4" stroke-linejoin="round" stroke-linecap="round"/>
<circle cx="4.1" cy="-4.1" r="2.6" fill="#fff"/>
<circle cx="4.1" cy="-4.1" r="1.7" fill="#f2182b"/>
</g>
<g transform="translate(7.3 665.6) scale(0.5139)">
<path d="M14 22H7V11H0V4h14v18zM28 22h-8l7.5-18h8L28 22z" fill="#131722"/><circle cx="20" cy="8" r="4" fill="#131722"/>
</g>
<text x="30.11" y="676.50" font-size="12.2" font-weight="bold" fill="#131722" textLength="74.58" lengthAdjust="spacingAndGlyphs" >TradingView</text>
</svg>
</body></html>
